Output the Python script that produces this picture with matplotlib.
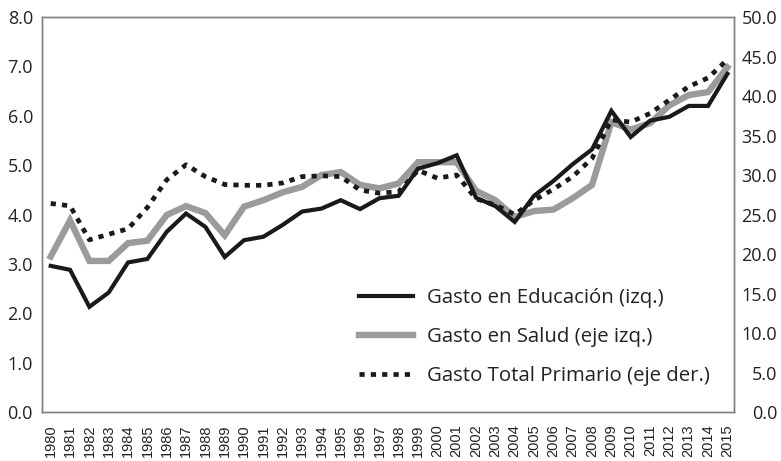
import matplotlib
matplotlib.use("Agg")
import matplotlib.pyplot as plt
import numpy as np

# ===== DATA =====
years = list(range(1980, 2016))

educacion = [2.96, 2.88, 2.13, 2.42, 3.03, 3.10, 3.65, 4.02, 3.75, 3.14,
             3.48, 3.55, 3.79, 4.06, 4.12, 4.29, 4.11, 4.33, 4.38, 4.93,
             5.04, 5.20, 4.34, 4.17, 3.85, 4.38, 4.68, 5.02, 5.32, 6.10,
             5.57, 5.90, 5.98, 6.20, 6.20, 6.85]

salud = [3.15, 3.88, 3.06, 3.06, 3.42, 3.47, 3.99, 4.17, 4.03, 3.58,
         4.16, 4.29, 4.45, 4.56, 4.80, 4.86, 4.60, 4.53, 4.63, 5.06,
         5.06, 5.06, 4.48, 4.29, 3.95, 4.07, 4.10, 4.33, 4.60, 5.87,
         5.72, 5.85, 6.21, 6.42, 6.48, 6.98]

total = [26.4, 26.1, 21.8, 22.5, 23.2, 25.9, 29.4, 31.3, 29.8, 28.8,
         28.7, 28.7, 29.0, 29.8, 29.9, 29.8, 28.1, 27.7, 27.9, 30.6,
         29.6, 30.0, 27.0, 26.2, 25.0, 26.8, 28.2, 29.8, 32.1, 37.0,
         36.7, 37.8, 39.5, 41.2, 42.3, 44.6]

left_ticks = [0, 1, 2, 3, 4, 5, 6, 7, 8]
right_ticks = [0, 5, 10, 15, 20, 25, 30, 35, 40, 45, 50]

labels = ["Gasto en Educación (izq.)",
          "Gasto en Salud (eje izq.)",
          "Gasto Total Primario (eje der.)"]

# ===== PLOT =====
plt.rcParams['font.family'] = ['Open Sans', 'DejaVu Sans']

fig = plt.figure(figsize=(7.81, 4.61), dpi=100)
ax = fig.add_axes([0.0538, 0.1063, 0.8862, 0.8567])
ax2 = ax.twinx()

l_sal, = ax.plot(years, salud, color='#9b9b9b', lw=4.6, solid_joinstyle='miter')
l_edu, = ax.plot(years, educacion, color='#1a1a1a', lw=3.0, solid_joinstyle='miter')
l_tot, = ax2.plot(years, total, color='#1a1a1a', lw=3.4, linestyle=(0, (1.1, 1.3)))

ax.set_xlim(1979.55, 2015.35)
ax.set_ylim(0, 8)
ax2.set_ylim(0, 50)

ax.set_yticks(left_ticks)
ax.set_yticklabels([f"{v:.1f}" for v in left_ticks])
ax2.set_yticks(right_ticks)
ax2.set_yticklabels([f"{v:.1f}" for v in right_ticks], ha='right')

ax.set_xticks(years)
ax.set_xticklabels([str(y) for y in years], rotation=90,
                   family='Liberation Sans', fontsize=10.5)

ax.tick_params(axis='y', length=0, pad=6.5, labelsize=13, labelcolor='#222222')
ax.tick_params(axis='x', length=0, pad=9, labelcolor='#222222')
ax2.tick_params(axis='y', length=0, pad=31, labelsize=13, labelcolor='#222222')

for a in (ax, ax2):
    for s in a.spines.values():
        s.set_color('#808080')
        s.set_linewidth(1.0)

ax2.legend([l_edu, l_sal, l_tot], labels, frameon=False, fontsize=14.7,
           loc='lower left', bbox_to_anchor=(0.432, 0.02),
           handlelength=2.65, handletextpad=0.65, labelspacing=0.92,
           labelcolor='#222222')

fig.savefig("out.png", dpi=100)
